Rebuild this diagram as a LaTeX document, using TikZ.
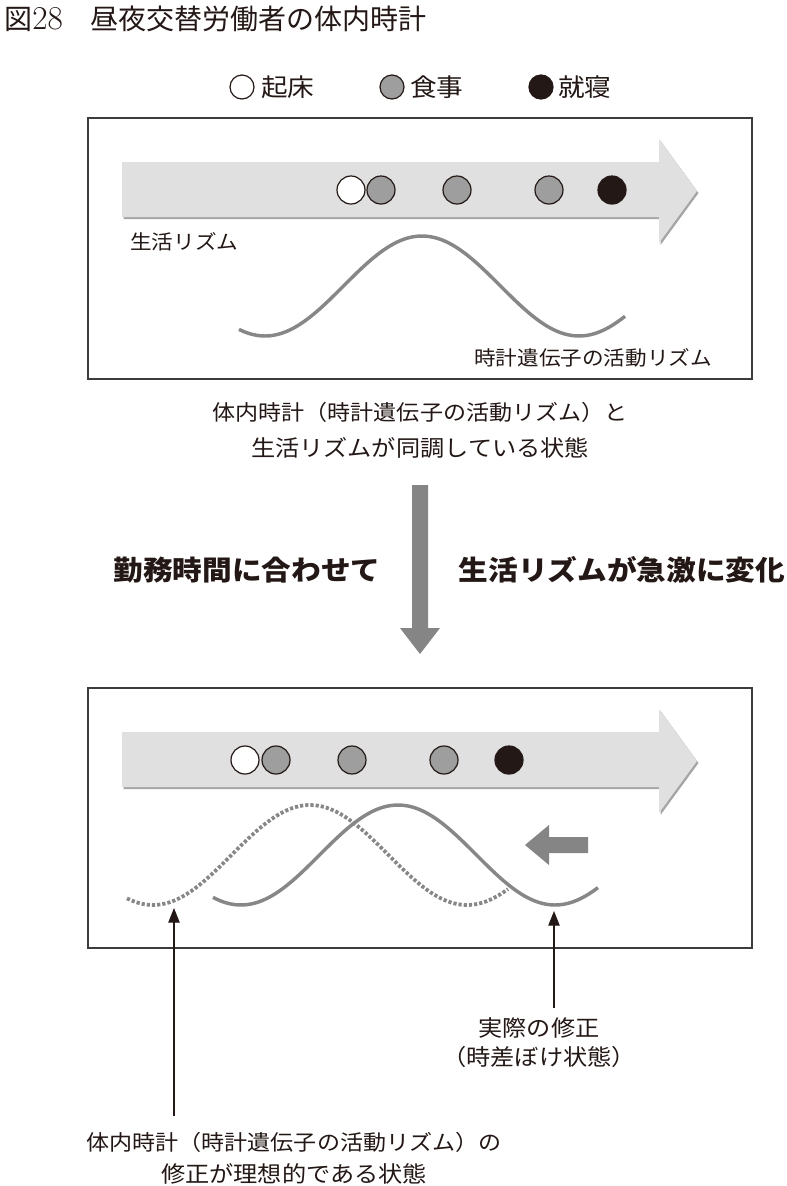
\documentclass[tikz,border=0pt]{standalone}
\usepackage{fontspec}
\usetikzlibrary{arrows.meta}
\newfontfamily\jp{Noto Sans CJK JP}[FakeStretch=1.08]
\newfontfamily\jptitle{Noto Sans CJK JP}
\newfontfamily\lmr{Latin Modern Roman}
\definecolor{ink}{RGB}{35,24,21}
\definecolor{framegray}{RGB}{60,60,60}
\definecolor{curvegray}{RGB}{135,135,135}
\definecolor{arrowfill}{RGB}{224,224,224}
\definecolor{arrowshadow}{RGB}{165,165,165}
\definecolor{dotgray}{RGB}{158,158,158}
\definecolor{bigarrow}{RGB}{133,133,133}
\tikzset{
  txt/.style={inner sep=0pt, text=ink, font={\jp\fontsize{16pt}{19pt}\selectfont}},
  txtb/.style={txt, font={\jp\fontsize{16.8pt}{20pt}\selectfont}},
  boxlbl/.style={txt, font={\jp\fontsize{15pt}{18pt}\selectfont}},
  legendtxt/.style={txt, anchor=west, font={\jp\fontsize{18.5pt}{21pt}\selectfont}},
  boldtxt/.style={txt, font={\jp\bfseries\fontsize{20.6pt}{24pt}\selectfont}},
  frame/.style={draw=framegray, line width=1.5pt},
  dotc/.style={circle, draw=ink, line width=0.9pt, minimum size=21pt, inner sep=0pt},
  wake/.style={dotc, fill=white},
  meal/.style={dotc, fill=dotgray},
  sleep/.style={dotc, fill=ink},
  legdot/.style={circle, draw=ink, line width=0.9pt, minimum size=18pt, inner sep=0pt},
  wave/.style={draw=curvegray, line width=2.6pt},
  dotwave/.style={draw=curvegray, line width=2.8pt, dash pattern=on 2.4pt off 1.5pt},
  lblarrow/.style={draw=ink, line width=0.9pt, -{Triangle[length=11pt,width=8.5pt]}},
}
\begin{document}
\begin{tikzpicture}[x=0.75pt,y=-0.75pt]
\useasboundingbox (0,0) rectangle (787,1186);
\fill[white] (0,0) rectangle (787,1186);

% title
\node[txt, anchor=west, font={\jptitle\fontsize{21pt}{24pt}\selectfont}] (title) at (4,19) {図{\lmr\fontsize{25pt}{26pt}\selectfont 28}\quad 昼夜交替労働者の体内時計};

% legend
\node[legdot, fill=white] (lw) at (242,87) {};
\node[legendtxt] (lwt) at (261,87) {起床};
\node[legdot, fill=dotgray] (lm) at (392,87) {};
\node[legendtxt] (lmt) at (410,87) {食事};
\node[legdot, fill=ink] (ls) at (541,87) {};
\node[legendtxt] (lst) at (558,87) {就寝};

% ===== top panel =====
\draw[frame] (88,118) rectangle (752,379);
\fill[arrowshadow] (123.5,164) -- (660.5,164) -- (660.5,141) -- (698.5,193) -- (660.5,245) -- (660.5,219) -- (123.5,219) -- cycle;
\fill[arrowfill] (122,162) -- (659,162) -- (659,139) -- (697,191) -- (659,243) -- (659,217) -- (122,217) -- cycle;
\node[wake] (t1) at (351,190) {};
\node[meal] (t2) at (381,190) {};
\node[meal] (t3) at (457,190) {};
\node[meal] (t4) at (549,190) {};
\node[sleep] (t5) at (612,190) {};
\node[boxlbl, anchor=west] (tlife) at (130,242) {生活リズム};
\draw[wave] plot[domain=239:625, samples=90, smooth] (\x, {286-50*cos(1.1465*(\x-422))});
\node[boxlbl] (tgene) at (593,358) {時計遺伝子の活動リズム};

% caption
\node[txt] (cap1) at (420,412) {体内時計（時計遺伝子の活動リズム）と};
\node[txtb] (cap2) at (420,448) {生活リズムが同調している状態};

% down arrow
\fill[bigarrow] (412,485) -- (428,485) -- (428,628) -- (440,628) -- (420,654) -- (400,628) -- (412,628) -- cycle;
\node[boldtxt] (bl) at (247,570) {勤務時間に合わせて};
\node[boldtxt] (br) at (622,570) {生活リズムが急激に変化};

% ===== bottom panel =====
\draw[frame] (88,688) rectangle (752,948);
\fill[arrowshadow] (123.5,734) -- (660.5,734) -- (660.5,711) -- (698.5,763) -- (660.5,815) -- (660.5,789) -- (123.5,789) -- cycle;
\fill[arrowfill] (122,732) -- (659,732) -- (659,709) -- (697,761) -- (659,813) -- (659,787) -- (122,787) -- cycle;
\node[wake] (b1) at (245,760) {};
\node[meal] (b2) at (276,760) {};
\node[meal] (b3) at (352,760) {};
\node[meal] (b4) at (444,760) {};
\node[sleep] (b5) at (509,760) {};
\draw[dotwave] plot[domain=127:508, samples=90, smooth] (\x, {855-50*cos(1.1465*(\x-310))});
\draw[wave] plot[domain=213:598, samples=90, smooth] (\x, {855-50*cos(1.1465*(\x-398))});
\fill[bigarrow] (525,845) -- (549,825) -- (549,837) -- (588,837) -- (588,853) -- (549,853) -- (549,865) -- cycle;

% labels with arrows
\node[txtb] (real1) at (539,1028) {実際の修正};
\node[txtb] (real2) at (539,1057) {（時差ぼけ状態）};
\node[txt] (ideal1) at (294,1142) {体内時計（時計遺伝子の活動リズム）の};
\node[txtb] (ideal2) at (294,1174) {修正が理想的である状態};
\coordinate (tipL) at (174,908);
\coordinate (tailL) at (174,1116);
\coordinate (tipR) at (554,911);
\coordinate (tailR) at (554,1008);
\draw[lblarrow] (tailL) -- (tipL);
\draw[lblarrow] (tailR) -- (tipR);
\end{tikzpicture}
\end{document}
